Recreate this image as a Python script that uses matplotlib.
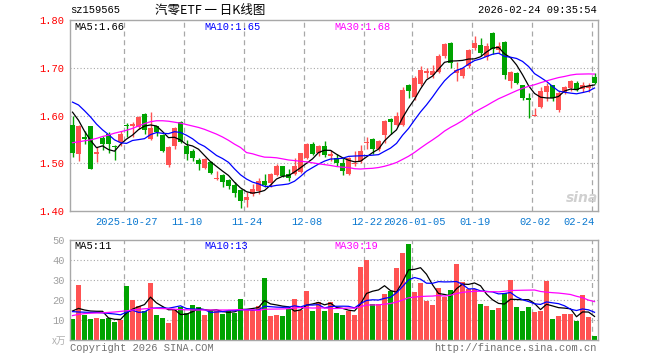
import numpy as np
import matplotlib
matplotlib.use("Agg")
import matplotlib.pyplot as plt

# ---- data ----
dates_idx = [9, 19, 29, 39, 49, 57, 67, 77, 87]
date_labels = ["2025-10-27", "11-10", "11-24", "12-08", "12-22", "2026-01-05", "01-19", "02-02", "02-24"]

opens = [1.581, 1.520, 1.555, 1.578, 1.520, 1.553, 1.562, 1.536, 1.544, 1.581,
         1.578, 1.575, 1.603, 1.550, 1.578, 1.560, 1.497, 1.537, 1.586, 1.536,
         1.526, 1.507, 1.491, 1.503, 1.467, 1.476, 1.465, 1.454, 1.444, 1.424,
         1.435, 1.442, 1.462, 1.458, 1.476, 1.495, 1.477, 1.477, 1.481, 1.510,
         1.540, 1.521, 1.537, 1.515, 1.512, 1.501, 1.478, 1.498, 1.505, 1.543,
         1.550, 1.529, 1.559, 1.592, 1.581, 1.581, 1.663, 1.638, 1.665, 1.690,
         1.684, 1.692, 1.724, 1.752, 1.690, 1.682, 1.703, 1.741, 1.748, 1.722,
         1.772, 1.738, 1.753, 1.672, 1.690, 1.663, 1.637, 1.600, 1.618, 1.649,
         1.663, 1.611, 1.650, 1.657, 1.668, 1.656, 1.658, 1.680]
highs = [1.599, 1.580, 1.567, 1.578, 1.535, 1.557, 1.565, 1.538, 1.567, 1.585,
         1.587, 1.599, 1.605, 1.607, 1.578, 1.562, 1.536, 1.576, 1.588, 1.548,
         1.530, 1.512, 1.510, 1.504, 1.484, 1.477, 1.467, 1.460, 1.446, 1.439,
         1.456, 1.470, 1.478, 1.479, 1.498, 1.495, 1.487, 1.512, 1.522, 1.543,
         1.545, 1.538, 1.547, 1.527, 1.519, 1.512, 1.513, 1.526, 1.538, 1.555,
         1.552, 1.548, 1.590, 1.594, 1.608, 1.659, 1.665, 1.682, 1.703, 1.700,
         1.706, 1.728, 1.752, 1.753, 1.712, 1.702, 1.740, 1.767, 1.763, 1.751,
         1.774, 1.754, 1.756, 1.693, 1.691, 1.664, 1.648, 1.615, 1.660, 1.668,
         1.664, 1.652, 1.662, 1.675, 1.672, 1.671, 1.668, 1.688]
lows = [1.513, 1.504, 1.540, 1.487, 1.502, 1.527, 1.522, 1.507, 1.536, 1.556,
        1.556, 1.571, 1.562, 1.549, 1.557, 1.524, 1.492, 1.530, 1.542, 1.507,
        1.505, 1.486, 1.489, 1.478, 1.465, 1.450, 1.446, 1.430, 1.406, 1.408,
        1.432, 1.436, 1.450, 1.450, 1.474, 1.472, 1.463, 1.475, 1.480, 1.508,
        1.517, 1.515, 1.513, 1.505, 1.494, 1.476, 1.476, 1.494, 1.501, 1.529,
        1.520, 1.526, 1.543, 1.562, 1.578, 1.578, 1.637, 1.633, 1.661, 1.679,
        1.678, 1.689, 1.721, 1.700, 1.672, 1.679, 1.700, 1.738, 1.724, 1.716,
        1.728, 1.731, 1.677, 1.658, 1.665, 1.633, 1.595, 1.598, 1.616, 1.631,
        1.630, 1.608, 1.645, 1.651, 1.651, 1.650, 1.650, 1.665]
closes = [1.522, 1.579, 1.550, 1.489, 1.523, 1.541, 1.540, 1.533, 1.562, 1.577,
          1.583, 1.597, 1.570, 1.574, 1.566, 1.525, 1.533, 1.574, 1.545, 1.519,
          1.510, 1.499, 1.508, 1.480, 1.470, 1.461, 1.453, 1.437, 1.421, 1.430,
          1.446, 1.463, 1.455, 1.477, 1.494, 1.474, 1.470, 1.494, 1.521, 1.541,
          1.520, 1.536, 1.518, 1.520, 1.500, 1.484, 1.510, 1.501, 1.526, 1.545,
          1.529, 1.547, 1.588, 1.587, 1.599, 1.654, 1.652, 1.678, 1.696, 1.693,
          1.694, 1.724, 1.750, 1.709, 1.695, 1.699, 1.738, 1.752, 1.731, 1.745,
          1.740, 1.746, 1.684, 1.691, 1.669, 1.637, 1.632, 1.602, 1.652, 1.661,
          1.636, 1.648, 1.659, 1.673, 1.654, 1.663, 1.661, 1.669]
volumes = [10.5, 27.5, 12.5, 10.5, 10.8, 10.5, 10.8, 9.2, 10.0, 27.0,
           20.0, 17.0, 14.5, 28.7, 12.5, 11.2, 8.7, 15.0, 16.3, 13.3,
           17.5, 16.3, 12.5, 14.5, 14.7, 13.0, 14.5, 13.7, 20.5, 15.0,
           15.0, 17.0, 31.2, 12.0, 12.5, 12.0, 15.3, 20.5, 15.0, 24.5,
           14.7, 19.2, 14.5, 19.2, 13.7, 12.5, 14.7, 12.5, 36.7, 40.0,
           18.0, 18.0, 23.0, 24.5, 36.2, 43.7, 48.0, 24.2, 28.7, 19.7,
           17.5, 26.2, 21.7, 25.0, 37.8, 29.2, 25.3, 25.3, 18.0, 17.0,
           15.0, 16.2, 23.7, 30.0, 16.3, 14.5, 16.3, 14.2, 14.7, 29.5,
           10.5, 12.0, 13.0, 13.0, 9.7, 22.5, 11.7, 2.0]

# moving average values at the start of the window (they depend on older days)
ma5_head = [1.607, 1.590, 1.567, 1.548]
ma10_head = [1.628, 1.622, 1.610, 1.597, 1.582, 1.570, 1.560, 1.549, 1.543]
ma30_head = [1.543, 1.545, 1.547, 1.549, 1.552, 1.556, 1.559, 1.563, 1.566, 1.569,
             1.573, 1.578, 1.583, 1.587, 1.589, 1.589, 1.588, 1.586, 1.584, 1.581,
             1.578, 1.575, 1.571, 1.566, 1.561, 1.555, 1.548, 1.540, 1.533]
vma5_head = [14.5, 15.8, 15.0, 14.5]
vma10_head = [14.2, 14.0, 13.9, 13.8, 13.8, 13.6, 13.3, 13.0, 12.6]
vma30_head = [12.2, 12.8, 13.2, 13.4, 13.5, 13.6, 13.8, 14.0, 14.3, 14.6,
              15.0, 15.3, 15.6, 15.8, 15.8, 15.7, 15.6, 15.4, 15.2, 15.1,
              15.0, 15.0, 15.0, 15.0, 15.0, 15.0, 15.0, 15.1, 15.2]


def moving_avg(values, n, head):
    out = list(head)
    for i in range(len(head), len(values)):
        out.append(np.mean(values[i - n + 1:i + 1]))
    return np.array(out)


def trunc(v, nd):
    f = 10 ** nd
    return int(v * f) / f


RED = "#ff5252"
GREEN = "#00a300"
GRID = "#a8a8a8"
MONO = ["Liberation Mono", "DejaVu Sans Mono"]
W, H = 660, 360


def fx(x):
    return x / W


def fy(y):
    return 1 - y / H


x = np.arange(len(closes))
o = np.array(opens)
c = np.array(closes)
up = c >= o
colors = [RED if u else GREEN for u in up]

ma5 = moving_avg(closes, 5, ma5_head)
ma10 = moving_avg(closes, 10, ma10_head)
ma30 = moving_avg(closes, 30, ma30_head)
vma5 = moving_avg(volumes, 5, vma5_head)
vma10 = moving_avg(volumes, 10, vma10_head)
vma30 = moving_avg(volumes, 30, vma30_head)

fig = plt.figure(figsize=(6.6, 3.6), dpi=100)
fig.patch.set_facecolor("white")

x0, x1 = 70, 598
ax = fig.add_axes([fx(x0), fy(211), fx(x1 - x0), (211 - 20) / H])
axv = fig.add_axes([fx(x0), fy(340), fx(x1 - x0), (340 - 240) / H])

xlim = (-0.42, len(closes) - 0.42)
grid_x = [d - 0.4 for d in dates_idx]

# ---- price panel ----
ax.set_xlim(*xlim)
ax.set_ylim(1.40, 1.80)
for gx in grid_x:
    ax.axvline(gx, color=GRID, lw=0.9, ls=(0, (4, 3)), zorder=0)
for gy in [1.50, 1.60, 1.70]:
    ax.axhline(gy, color=GRID, lw=0.8, ls=(0, (1, 2)), zorder=0)

ax.vlines(x, lows, highs, color=colors, lw=1.0, zorder=2)
body_bottom = np.minimum(o, c)
body_h = np.maximum(np.abs(c - o), 0.0018)
ax.bar(x, body_h, bottom=body_bottom, width=0.78, color=colors, zorder=3, linewidth=0)

ax.plot(x, ma5, color="black", lw=0.9, zorder=4)
ax.plot(x, ma10, color="#0000ff", lw=0.9, zorder=4)
ax.plot(x, ma30, color="#ff00ff", lw=0.9, zorder=4)

ax.set_yticks([1.40, 1.50, 1.60, 1.70, 1.80])
ax.set_yticklabels(["%.2f" % v for v in [1.40, 1.50, 1.60, 1.70, 1.80]],
                   color="#ff0000", fontsize=7.5, family=MONO)
ax.set_xticks(dates_idx)
ax.set_xticklabels(date_labels, color="#0a78d0", fontsize=7.5, family=MONO)
ax.tick_params(length=0, pad=4)
ax.get_xticklabels()[-1].set_ha("right")
ax.get_xticklabels()[-1].set_x(86.6)
for s in ax.spines.values():
    s.set_color(GRID)
    s.set_linewidth(1.0)

# ---- volume panel ----
axv.set_xlim(*xlim)
axv.set_ylim(0, 50)
for gx in grid_x:
    axv.axvline(gx, color=GRID, lw=0.9, ls=(0, (4, 3)), zorder=0)
for gy in [10, 20, 30, 40]:
    axv.axhline(gy, color=GRID, lw=0.8, ls=(0, (1, 2)), zorder=0)
axv.bar(x, volumes, width=0.8, color=colors, linewidth=0, zorder=2)
axv.plot(x, vma5, color="black", lw=0.9, zorder=4)
axv.plot(x, vma10, color="#0000ff", lw=0.9, zorder=4)
axv.plot(x, vma30, color="#ff00ff", lw=0.9, zorder=4)
axv.set_yticks([10, 20, 30, 40, 50])
axv.set_yticklabels(["10", "20", "30", "40", "50"], color="#a0a0a0", fontsize=7.5, family=MONO)
axv.set_xticks([])
axv.tick_params(length=0, pad=4)
for s in axv.spines.values():
    s.set_color(GRID)
    s.set_linewidth(1.0)

# ---- texts ----
mono = dict(family=MONO, fontsize=7.5)
fig.text(fx(70), fy(10), "sz159565", color="black", va="center", ha="left", **mono)
fig.text(fx(210), fy(10), "汽零ETF 一 日K线图", color="black", va="center", ha="center",
         fontsize=9, family=["Noto Sans CJK SC", "DejaVu Sans"])
fig.text(fx(597), fy(10), "2026-02-24 09:35:54", color="black", va="center", ha="right", **mono)

fig.text(fx(74), fy(27), "MA5:%.2f" % trunc(ma5[-1], 2), color="black", va="center", **mono)
fig.text(fx(204), fy(27), "MA10:%.2f" % trunc(ma10[-1], 2), color="#0000ff", va="center", **mono)
fig.text(fx(334), fy(27), "MA30:%.2f" % trunc(ma30[-1], 2), color="#ff00ff", va="center", **mono)

fig.text(fx(74), fy(246), "MA5:%d" % int(vma5[-1]), color="black", va="center", **mono)
fig.text(fx(204), fy(246), "MA10:%d" % int(vma10[-1]), color="#0000ff", va="center", **mono)
fig.text(fx(334), fy(246), "MA30:%d" % int(vma30[-1]), color="#ff00ff", va="center", **mono)

fig.text(fx(66), fy(341), "x万", color="#b0b0b0", va="center", ha="right",
         fontsize=7, family=["Noto Sans CJK SC", "DejaVu Sans"])
fig.text(fx(70), fy(348), "Copyright 2026 SINA.COM", color="#707070", va="center", ha="left", **mono)
fig.text(fx(597), fy(348), "http://finance.sina.com.cn", color="#707070", va="center", ha="right", **mono)

# faint watermark
fig.text(fx(582), fy(198), "sina", color="#d0d0d0", va="center", ha="center",
         fontsize=10, fontweight="bold", style="italic", family="DejaVu Sans")

fig.savefig("out.png", dpi=100, facecolor="white")
